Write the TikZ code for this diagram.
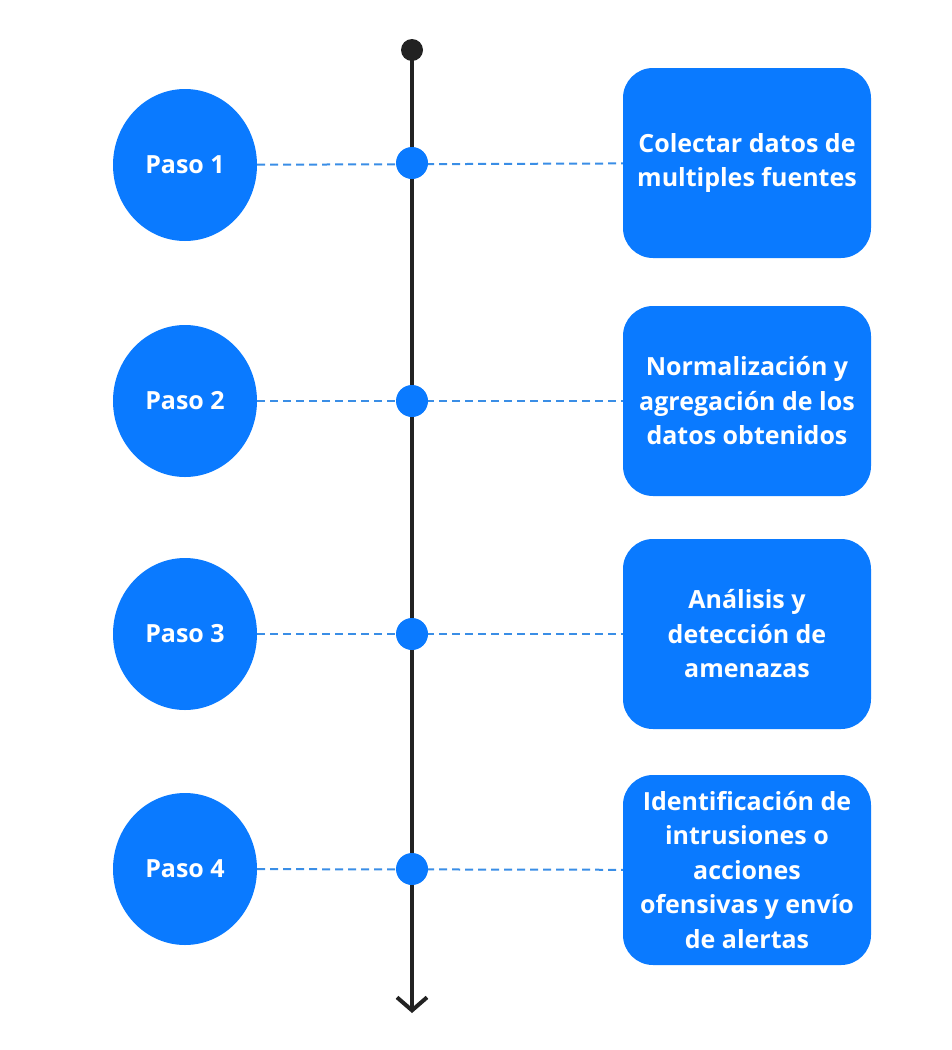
\documentclass[tikz,border=0pt]{standalone}
\usepackage{fontspec}
\setmainfont{Open Sans}
\usetikzlibrary{arrows.meta,shapes.geometric}
\definecolor{azul}{HTML}{0A7AFF}
\definecolor{trazo}{HTML}{3A8EE6}
\definecolor{eje}{HTML}{222222}
\tikzset{
	paso/.style={ellipse,fill=azul,minimum width=144pt,minimum height=152pt,inner sep=0pt,text=white,font=\fontsize{25}{34.5}\selectfont\bfseries},
	tarea/.style={fill=azul,rounded corners=30pt,minimum width=248pt,minimum height=190pt,inner sep=0pt,text=white,align=center,font=\fontsize{25}{34.5}\selectfont\bfseries},
	hito/.style={circle,fill=azul,minimum size=32pt,inner sep=0pt},
	enlace/.style={draw=trazo,line width=2pt,dash pattern=on 8pt off 5pt}
}

\begin{document}
\begin{tikzpicture}[x=1pt,y=-1pt]
	\useasboundingbox (0,0) rectangle (952,1050);
	\draw (185,165) node(p1) [paso] {Paso 1};
	\draw (185,401) node(p2) [paso] {Paso 2};
	\draw (185,634) node(p3) [paso] {Paso 3};
	\draw (185,869) node(p4) [paso] {Paso 4};
	\draw (747,163) node(b1) [tarea] {Colectar datos de\\multiples fuentes};
	\draw (747,401) node(b2) [tarea] {Normalización y\\agregación de los\\datos obtenidos};
	\draw (747,634) node(b3) [tarea] {Análisis y\\detección de\\amenazas};
	\draw (747,870) node(b4) [tarea] {Identificación de\\intrusiones o\\acciones\\ofensivas y envío\\de alertas};
	\path[enlace] (p1) -- (b1);
	\path[enlace] (p2) -- (b2);
	\path[enlace] (p3) -- (b3);
	\path[enlace] (p4) -- (b4);
	\draw (412,50) node(inicio) [circle,fill=eje,minimum size=22pt,inner sep=0pt] {};
	\coordinate (fin) at (412,1013);
	\path[draw=eje,line width=4pt,-{Straight Barb[length=13pt,width=30pt]}] (inicio.center) -- (fin);
	\draw (412,163) node(d1) [hito] {};
	\draw (412,401) node(d2) [hito] {};
	\draw (412,634) node(d3) [hito] {};
	\draw (412,869) node(d4) [hito] {};
\end{tikzpicture}
\end{document}
